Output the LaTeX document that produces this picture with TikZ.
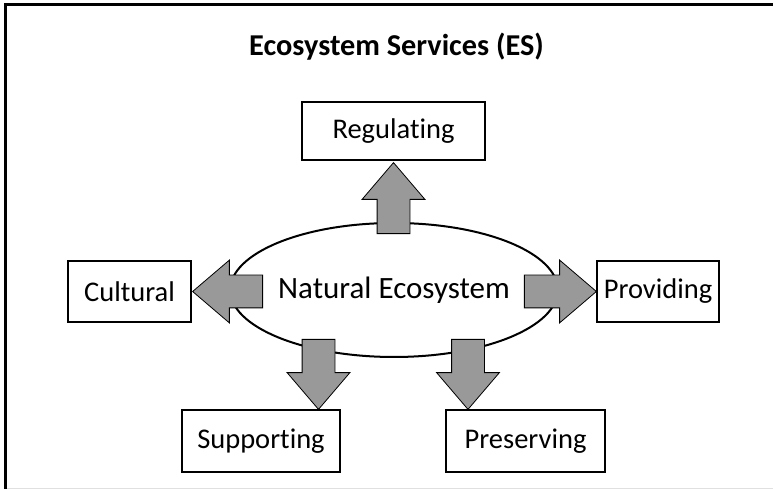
\documentclass[tikz,border=0pt]{standalone}
\usepackage{fontspec}
\setmainfont{Carlito}[Ligatures={NoCommon}]
\usetikzlibrary{shapes.arrows, shapes.geometric}

\tikzset{
    service/.style={draw, line width=2pt, fill=white, minimum width=#1, minimum height=61pt,
        inner sep=0pt, font=\fontsize{28.5}{31}\selectfont},
    bigarrow/.style={single arrow, draw, line width=0.8pt, fill=gray!80, inner xsep=0pt,
        inner ysep=16pt, single arrow head extend=15pt, single arrow tip angle=81,
        minimum height=#1, anchor=tip}
}

\begin{document}
\begin{tikzpicture}[x=1pt, y=1pt]
    \useasboundingbox (0,0) rectangle (773,489);

    % frame
    \draw[line width=3pt] (5.5,0) -- (5.5,484.5) -- (773,484.5);
    \draw[black!12, line width=1pt] (7,0.5) -- (773,0.5);

    \node[font=\bfseries\fontsize{30.3}{34}\selectfont] (title) at (396.5,442) {Ecosystem Services (ES)};

    % centre
    \node[draw, ellipse, line width=2pt, minimum width=292pt, minimum height=134pt, inner sep=0pt,
        font=\fontsize{31}{34}\selectfont] (eco) at (394,199) {Natural Ecosystem};

    % arrows
    \node[bigarrow=71pt, rotate=90] (upArr) at (393.5,327) {};
    \node[bigarrow=72pt] (rightArr) at (597,197.5) {};
    \node[bigarrow=70pt, rotate=180] (leftArr) at (192,197.5) {};
    \node[bigarrow=70pt, rotate=-90] (downArrA) at (318.5,79) {};
    \node[bigarrow=70pt, rotate=-90] (downArrB) at (468,79) {};

    % services
    \node[service=183pt, minimum height=58pt] (reg) at (393.5,358) {Regulating};
    \node[service=123pt] (cult) at (129.5,197.5) {Cultural};
    \node[service=122pt] (prov) at (658,197.5) {Providing};
    \node[service=158pt, minimum height=62pt] (supp) at (261,48) {Supporting};
    \node[service=159pt, minimum height=62pt] (pres) at (525.5,48) {Preserving};

\end{tikzpicture}
\end{document}
